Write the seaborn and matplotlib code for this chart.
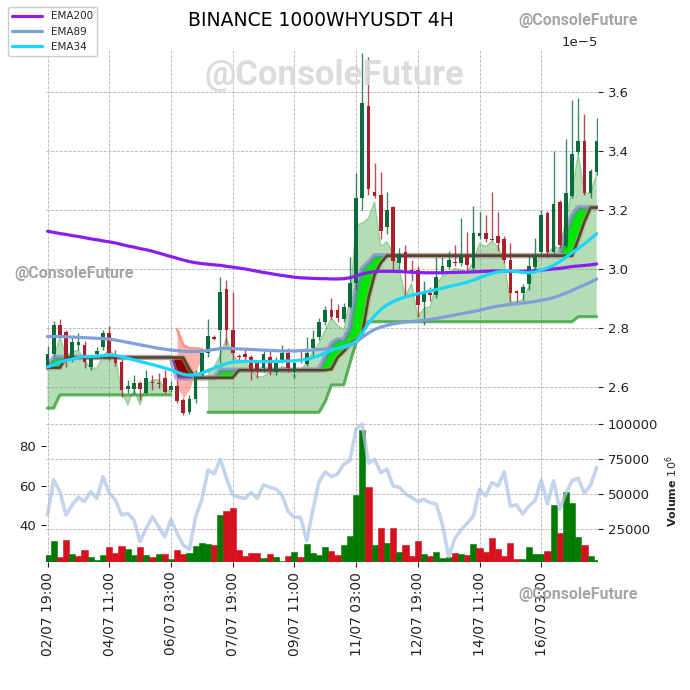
import numpy as np
import pandas as pd
import matplotlib
matplotlib.use('Agg')
import matplotlib.pyplot as plt
import seaborn as sns

nan = np.nan

tick_pos = [0, 10, 20, 30, 40, 50, 60, 70, 80]
tick_labels = ['02/07 19:00', '04/07 11:00', '06/07 03:00', '07/07 19:00', '09/07 11:00',
               '11/07 03:00', '12/07 19:00', '14/07 11:00', '16/07 03:00']

# prices in units of 1e-5
opens = [2.671, 2.711, 2.810, 2.785, 2.703, 2.742, 2.742, 2.668, 2.712, 2.737,
         2.784, 2.712, 2.686, 2.593, 2.593, 2.614, 2.581, 2.615, 2.614, 2.631,
         2.590, 2.603, 2.556, 2.515, 2.560, 2.640, 2.714, 2.768, 2.793, 2.931,
         2.793, 2.705, 2.712, 2.700, 2.680, 2.663, 2.700, 2.652, 2.689, 2.714,
         2.652, 2.693, 2.678, 2.731, 2.771, 2.819, 2.861, 2.861, 2.830, 2.871,
         2.952, 3.240, 3.553, 3.262, 3.250, 3.141, 3.211, 3.019, 3.059, 2.995,
         2.997, 2.889, 2.920, 2.912, 2.988, 3.008, 3.025, 3.019, 3.047, 3.002,
         3.110, 3.123, 3.102, 3.112, 3.100, 3.030, 2.925, 2.920, 2.949, 3.008,
         3.059, 3.190, 3.059, 3.228, 3.078, 3.247, 3.398, 3.432, 3.259, 3.330]
highs = [2.739, 2.824, 2.830, 2.793, 2.766, 2.783, 2.756, 2.708, 2.736, 2.793,
         2.807, 2.725, 2.695, 2.624, 2.640, 2.620, 2.658, 2.641, 2.648, 2.658,
         2.620, 2.624, 2.563, 2.574, 2.658, 2.730, 2.829, 2.775, 2.972, 2.963,
         2.923, 2.712, 2.725, 2.708, 2.690, 2.725, 2.725, 2.700, 2.742, 2.732,
         2.690, 2.730, 2.769, 2.793, 2.834, 2.874, 2.900, 2.880, 2.885, 3.042,
         3.326, 3.731, 3.720, 3.360, 3.330, 3.262, 3.215, 3.070, 3.080, 3.030,
         3.010, 2.960, 2.940, 3.042, 3.042, 3.060, 3.080, 3.174, 3.124, 3.213,
         3.194, 3.182, 3.262, 3.194, 3.110, 3.088, 2.930, 2.950, 3.047, 3.106,
         3.200, 3.198, 3.401, 3.235, 3.440, 3.571, 3.579, 3.525, 3.340, 3.511]
lows = [2.667, 2.705, 2.770, 2.669, 2.685, 2.725, 2.664, 2.658, 2.705, 2.725,
        2.690, 2.670, 2.566, 2.580, 2.575, 2.556, 2.575, 2.590, 2.598, 2.578,
        2.583, 2.546, 2.505, 2.508, 2.545, 2.630, 2.700, 2.760, 2.680, 2.742,
        2.690, 2.690, 2.690, 2.624, 2.630, 2.650, 2.640, 2.640, 2.680, 2.650,
        2.630, 2.680, 2.670, 2.700, 2.760, 2.810, 2.830, 2.820, 2.820, 2.866,
        2.930, 3.200, 3.250, 3.240, 3.100, 3.120, 3.000, 3.000, 2.906, 2.960,
        2.838, 2.810, 2.890, 2.900, 2.980, 3.000, 3.010, 3.010, 2.990, 2.990,
        3.100, 3.090, 3.095, 3.060, 3.020, 2.889, 2.889, 2.895, 2.930, 3.000,
        3.050, 3.040, 3.050, 3.070, 3.070, 3.240, 3.390, 3.250, 3.240, 3.320]
closes = [2.712, 2.810, 2.776, 2.703, 2.754, 2.754, 2.686, 2.702, 2.723, 2.783,
          2.714, 2.681, 2.590, 2.603, 2.614, 2.593, 2.631, 2.612, 2.610, 2.584,
          2.603, 2.553, 2.511, 2.560, 2.635, 2.714, 2.773, 2.764, 2.923, 2.793,
          2.714, 2.700, 2.700, 2.658, 2.660, 2.711, 2.660, 2.689, 2.716, 2.663,
          2.680, 2.688, 2.714, 2.762, 2.819, 2.861, 2.838, 2.834, 2.871, 2.952,
          3.241, 3.564, 3.270, 3.248, 3.130, 3.200, 3.028, 3.051, 2.991, 2.985,
          2.878, 2.917, 2.910, 2.974, 3.010, 3.030, 3.020, 3.042, 3.013, 3.121,
          3.123, 3.100, 3.098, 3.089, 3.030, 2.920, 2.920, 2.940, 3.010, 3.042,
          3.183, 3.059, 3.220, 3.081, 3.259, 3.390, 3.432, 3.259, 3.333, 3.432]

ema200 = [3.128, 3.124, 3.120, 3.117, 3.113, 3.110, 3.106, 3.102, 3.099, 3.095,
          3.092, 3.088, 3.083, 3.078, 3.074, 3.069, 3.065, 3.060, 3.054, 3.048,
          3.042, 3.036, 3.030, 3.025, 3.021, 3.018, 3.016, 3.014, 3.012, 3.009,
          3.006, 3.003, 3.000, 2.996, 2.992, 2.988, 2.985, 2.981, 2.978, 2.975,
          2.972, 2.970, 2.969, 2.968, 2.967, 2.967, 2.966, 2.966, 2.967, 2.970,
          2.976, 2.983, 2.988, 2.991, 2.992, 2.992, 2.992, 2.991, 2.990, 2.989,
          2.988, 2.987, 2.987, 2.987, 2.987, 2.988, 2.988, 2.989, 2.989, 2.990,
          2.991, 2.992, 2.993, 2.993, 2.993, 2.992, 2.992, 2.992, 2.993, 2.994,
          2.996, 2.998, 3.000, 3.002, 3.005, 3.008, 3.010, 3.012, 3.014, 3.017]
ema89 = [2.771, 2.771, 2.771, 2.770, 2.769, 2.768, 2.767, 2.766, 2.765, 2.764,
         2.762, 2.759, 2.755, 2.751, 2.747, 2.743, 2.739, 2.735, 2.731, 2.728,
         2.725, 2.723, 2.721, 2.720, 2.720, 2.721, 2.724, 2.727, 2.730, 2.731,
         2.730, 2.729, 2.728, 2.727, 2.726, 2.725, 2.724, 2.723, 2.722, 2.722,
         2.722, 2.723, 2.724, 2.725, 2.727, 2.729, 2.729, 2.730, 2.733, 2.740,
         2.752, 2.768, 2.783, 2.795, 2.803, 2.809, 2.814, 2.817, 2.820, 2.822,
         2.824, 2.826, 2.829, 2.832, 2.836, 2.840, 2.844, 2.848, 2.852, 2.856,
         2.860, 2.865, 2.870, 2.874, 2.877, 2.880, 2.882, 2.884, 2.887, 2.890,
         2.894, 2.898, 2.903, 2.910, 2.918, 2.927, 2.937, 2.946, 2.955, 2.966]
ema34 = [2.668, 2.675, 2.684, 2.690, 2.694, 2.700, 2.703, 2.703, 2.704, 2.706,
         2.708, 2.707, 2.702, 2.697, 2.692, 2.686, 2.681, 2.676, 2.670, 2.664,
         2.658, 2.650, 2.643, 2.640, 2.641, 2.647, 2.656, 2.664, 2.672, 2.680,
         2.684, 2.686, 2.687, 2.687, 2.686, 2.686, 2.686, 2.686, 2.687, 2.688,
         2.689, 2.691, 2.694, 2.699, 2.706, 2.715, 2.724, 2.731, 2.737, 2.743,
         2.755, 2.782, 2.815, 2.842, 2.862, 2.878, 2.890, 2.898, 2.905, 2.911,
         2.916, 2.920, 2.925, 2.930, 2.935, 2.940, 2.945, 2.950, 2.955, 2.962,
         2.970, 2.978, 2.985, 2.990, 2.993, 2.993, 2.991, 2.988, 2.987, 2.990,
         2.996, 3.003, 3.012, 3.025, 3.040, 3.055, 3.070, 3.085, 3.102, 3.120]

# support zone (green): stepped floor and upper edge
support = ([2.528] * 2 + [2.573] * 19 + [nan] * 5 + [2.514] * 19 + [2.55]
           + [2.607] * 3 + [2.68, 2.75, 2.80] + [2.821] * 34 + [2.838] * 4)
support_top = [2.669, 2.692, 2.771, 2.708, 2.719, 2.725, 2.692, 2.664, 2.664, 2.708,
               2.725, 2.705, 2.583, 2.539, 2.590, 2.539, 2.607, 2.624, 2.624, 2.597,
               2.583, nan, nan, nan, nan, nan, 2.648, 2.669, 2.708, 2.765,
               2.708, 2.686, 2.685, 2.663, 2.635, 2.635, 2.652, 2.641, 2.669, 2.663,
               2.635, 2.658, 2.680, 2.720, 2.748, 2.793, 2.833, 2.810, 2.793, 2.895,
               3.149, 3.155, 3.172, 3.228, 3.076, 3.093, 3.053, 2.997, 2.906, 2.952,
               2.838, 2.867, 2.872, 2.952, 2.974, 2.985, 3.002, 2.997, 2.990, 3.025,
               3.087, 3.076, 3.093, 3.076, 3.025, 2.889, 2.889, 2.895, 2.940, 3.014,
               3.047, 3.053, 3.076, 3.070, 3.172, 3.268, 3.392, 3.257, 3.257, 3.324]
# resistance zone (red)
resist_top = [nan] * 21 + [2.796, 2.742, 2.731, 2.731, 2.728] + [nan] * 64
resist_bot = [nan] * 21 + [2.603, 2.562, 2.590, 2.650, 2.700] + [nan] * 64

# stepped trend band
band_a = ([2.665] + [2.700] * 20 + [2.631] * 7 + [2.657] * 17
          + [2.700, 2.745, 2.760, 2.760, 2.800, 2.930, 3.000, 3.020]
          + [3.045] * 31 + [3.120, 3.180] + [3.208] * 4)
band_b = ([2.665] * 3 + [2.700] * 20 + [2.660] + [2.631] * 7 + [2.657] * 15
          + [2.660, 2.700, 2.720, 2.745, 2.760, 2.780, 2.900, 2.980, 3.020]
          + [3.045] * 31 + [3.100, 3.160] + [3.208] * 2)

volume = [6300, 16400, 4900, 17000, 7000, 5600, 9900, 4900, 2700, 6300,
          12000, 7800, 12800, 10600, 6300, 12000, 6300, 4900, 7000, 7000,
          3400, 9900, 7000, 7800, 12800, 14900, 14200, 13500, 35000, 37900,
          40000, 9900, 5600, 7800, 7800, 4200, 7000, 4900, 2000, 5600,
          8500, 4900, 14200, 7800, 6300, 12000, 9200, 6300, 13500, 20000,
          49400, 96000, 55000, 13500, 25700, 14700, 25700, 8200, 13500, 5600,
          16400, 7000, 5600, 8200, 4200, 4900, 7500, 7000, 6300, 14200,
          11300, 8500, 18500, 10600, 5600, 14900, 3400, 3400, 12000, 7000,
          7000, 9200, 42000, 22000, 51500, 43400, 19200, 13500, 5600, 2700]
volume_up = [1, 1, 0, 0, 1, 0, 0, 1, 1, 1,
             0, 0, 0, 1, 1, 0, 1, 0, 1, 0,
             1, 0, 0, 1, 1, 1, 1, 0, 1, 0,
             0, 0, 0, 0, 0, 1, 0, 1, 1, 0,
             1, 0, 1, 1, 1, 1, 0, 0, 1, 1,
             1, 1, 0, 1, 0, 1, 0, 1, 0, 0,
             0, 1, 0, 1, 1, 1, 0, 1, 0, 1,
             0, 0, 0, 0, 0, 0, 0, 1, 1, 1,
             1, 0, 1, 0, 1, 1, 1, 0, 1, 1]
oscillator = [45.2, 62.9, 57, 45.2, 50.3, 54.1, 52, 57, 53.6, 64.5,
              56.2, 52.8, 45.2, 46, 42.7, 31.7, 38.5, 44.3, 39.3, 34.2,
              43, 36, 30, 27.9, 44.3, 52.8, 67.9, 65.9, 73.3, 63.7,
              55.3, 54.1, 53.6, 56.5, 53.6, 60.4, 59.2, 58.3, 55.3, 46.9,
              44, 44, 32.2, 47.7, 62, 66.9, 64.5, 65.9, 70.8, 72.6,
              88.5, 91, 71.3, 73.3, 66.6, 68.3, 59.8, 59.2, 55.8, 54.1,
              51.9, 53.1, 51.4, 50.8, 40.2, 24.1, 33.4, 37.6, 41, 44.7,
              58.2, 54.8, 61.5, 59.8, 66.9, 49.7, 50.3, 45.7, 49.7, 52.4,
              62.9, 50.8, 62.5, 48.1, 56.2, 62.5, 63.7, 56.2, 60.4, 69.3]

SCALE = 1e-5

sns.set_style('whitegrid', {'grid.linestyle': '--', 'grid.color': '#b5b5b5'})
plt.rcParams.update({
    'font.family': ['DejaVu Sans'],
    'xtick.bottom': True, 'ytick.left': True,
    'xtick.major.size': 3.5, 'ytick.major.size': 3.5,
    'xtick.major.width': 0.8, 'ytick.major.width': 0.8,
    'xtick.color': '#222222', 'ytick.color': '#222222',
    'xtick.labelsize': 9.5, 'ytick.labelsize': 9.5,
    'grid.linewidth': 0.6,
})

n = len(closes)
idx = np.arange(n)
df = pd.DataFrame({
    'i': idx,
    'open': np.array(opens) * SCALE, 'high': np.array(highs) * SCALE,
    'low': np.array(lows) * SCALE, 'close': np.array(closes) * SCALE,
    'ema200': np.array(ema200) * SCALE, 'ema89': np.array(ema89) * SCALE,
    'ema34': np.array(ema34) * SCALE,
    'sup': np.array(support) * SCALE, 'sup_top': np.array(support_top) * SCALE,
    'res_top': np.array(resist_top) * SCALE, 'res_bot': np.array(resist_bot) * SCALE,
    'band_a': np.array(band_a) * SCALE, 'band_b': np.array(band_b) * SCALE,
    'volume': volume, 'vol_up': volume_up, 'osc': oscillator,
})

fig = plt.figure(figsize=(6.9, 6.9), dpi=100)
ax = fig.add_axes([0.0667, 0.3913, 0.8, 0.5362])
axv = fig.add_axes([0.0667, 0.1855, 0.8, 0.2058], sharex=ax)

# support zone
ax.fill_between(df.i, df.sup, df.sup_top, color='#4caf50', alpha=0.42, lw=0, zorder=1)
ax.plot(df.i, df.sup_top, color='#4caf50', alpha=0.45, lw=1, zorder=1.1)
ax.plot(df.i, df.sup, color='#2e9a2e', alpha=0.75, lw=2.2, zorder=1.2)

# resistance zone
ax.fill_between(df.i, df.res_top, df.res_bot, color='#ff7f70', alpha=0.6, lw=0, zorder=1)
ax.plot(df.i, df.res_top, color='#ff8a7a', alpha=0.85, lw=2, zorder=1.2)

# trend band
a = df.band_a.values
b = df.band_b.values
ax.fill_between(df.i, a, b, where=a >= b, interpolate=True, color='#00e600', lw=0, zorder=2)
ax.fill_between(df.i, a, b, where=a < b, interpolate=True, color='#8b0000', lw=0, zorder=2)
ax.plot(df.i, a, color='#7a78d0', alpha=0.6, lw=3.8, zorder=2.2)
ax.plot(df.i, b, color='#e08a70', alpha=0.55, lw=3.8, zorder=2.3)
ax.plot(df.i, b, color='#3a4a30', alpha=0.95, lw=1.9, zorder=2.4)

# candles
up = df.close >= df.open
ccol = np.where(up, '#0b6b3c', '#a8202c')
body_lo = np.minimum(df.open, df.close)
body_h = np.maximum(np.abs(df.close - df.open), 0.004 * SCALE)
ax.vlines(df.i, df.low, df.high, colors=ccol, lw=1, alpha=0.8, zorder=3)
ax.bar(df.i, body_h, bottom=body_lo, width=0.6, color=ccol, lw=0, zorder=3.1)

# EMAs
sns.lineplot(data=df, x='i', y='ema200', ax=ax, color='#8a1ef0', lw=2.3, label='EMA200', zorder=5)
sns.lineplot(data=df, x='i', y='ema89', ax=ax, color='#7f9fda', lw=2.3, label='EMA89', zorder=5)
sns.lineplot(data=df, x='i', y='ema34', ax=ax, color='#1ad6fa', lw=2.3, label='EMA34', zorder=5)
handles, labels = ax.get_legend_handles_labels()
if ax.get_legend() is not None:
    ax.get_legend().remove()

ax.set_ylim(2.488e-5, 3.742e-5)
ax.set_yticks([2.6e-5, 2.8e-5, 3.0e-5, 3.2e-5, 3.4e-5, 3.6e-5])
ax.yaxis.tick_right()
ax.yaxis.set_offset_position('right')
ax.set_xlabel('')
ax.set_ylabel('')
ax.tick_params(axis='x', bottom=False, labelbottom=False)
ax.grid(True, linestyle='--', color='#b5b5b5', lw=0.6)

# volume panel
vcol = np.where(df.vol_up == 1, '#007a00', '#d6101c')
axv.bar(df.i, df.volume, width=1.0, color=vcol, edgecolor=vcol, lw=0.4, zorder=2)
axv.set_ylim(1300, 103200)
axv.set_yticks([25000, 50000, 75000, 100000])
axv.grid(True, linestyle='--', color='#b5b5b5', lw=0.6)

axr = axv.twinx()
sns.lineplot(data=df, x='i', y='osc', ax=axr, color='#aec4e6', lw=2.6, alpha=0.72)
axr.set_ylim(21.5, 93.1)
axr.set_yticks([40, 60, 80])
axr.grid(False)
axr.set_ylabel('')
axr.yaxis.tick_left()
axv.yaxis.tick_right()
axv.yaxis.set_label_position('right')
axv.set_ylabel('Volume $10^6$', fontweight='bold', fontsize=8)

axv.set_xticks(tick_pos)
axv.set_xticklabels(tick_labels, rotation=90, fontsize=10)
axv.set_xlim(-0.24, 89.2)
axv.set_xlabel('')
axr.set_xlabel('')

for a_ in (ax, axv, axr):
    for s in a_.spines.values():
        s.set_visible(False)

fig.legend(handles, labels, loc='upper left', bbox_to_anchor=(0.004, 0.997),
           fontsize=7.5, frameon=True, framealpha=1, edgecolor='#cccccc', handlelength=2.9)

fig.text(0.4652, 0.971, 'BINANCE 1000WHYUSDT 4H', ha='center', va='center',
         fontsize=13.5, color='black')

wm = dict(family='Roboto', fontweight='bold', ha='center', va='center', zorder=10)
fig.text(0.4855, 0.89, '@ConsoleFuture', fontsize=25, color='#d9d9d9', alpha=0.9, **wm)
fig.text(0.107, 0.604, '@ConsoleFuture', fontsize=11.5, color='#9e9a9a', alpha=0.9, **wm)
fig.text(0.838, 0.971, '@ConsoleFuture', fontsize=11.5, color='#9e9a9a', alpha=0.9, **wm)
fig.text(0.838, 0.139, '@ConsoleFuture', fontsize=11.5, color='#9e9a9a', alpha=0.9, **wm)

plt.savefig('out.png', dpi=100)
